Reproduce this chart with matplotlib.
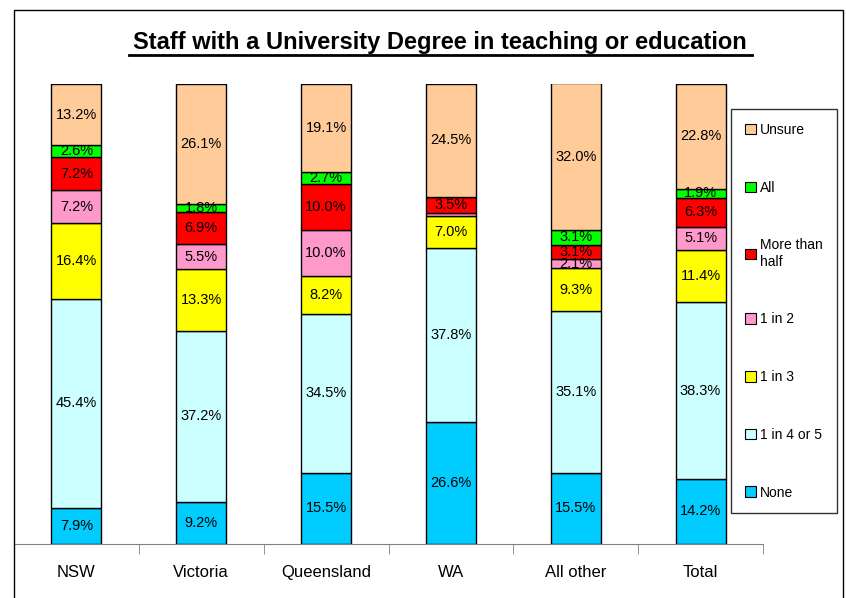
import numpy as np
import matplotlib.pyplot as plt
from matplotlib.patches import Rectangle, Patch

plt.rcParams['font.family'] = ['Liberation Sans', 'DejaVu Sans']

regions = ['NSW', 'Victoria', 'Queensland', 'WA', 'All other', 'Total']
series = ['None', '1 in 4 or 5', '1 in 3', '1 in 2', 'More than\nhalf', 'All', 'Unsure']
colors = ['#00CCFF', '#CCFFFF', '#FFFF00', '#FF99CC', '#FF0000', '#00FF00', '#FFCC99']

none_ = [7.9, 9.2, 15.5, 26.6, 15.5, 14.2]
one_in_4_5 = [45.4, 37.2, 34.5, 37.8, 35.1, 38.3]
one_in_3 = [16.4, 13.3, 8.2, 7.0, 9.3, 11.4]
one_in_2 = [7.2, 5.5, 10.0, 0.5, 2.1, 5.1]
more_than_half = [7.2, 6.9, 10.0, 3.5, 3.1, 6.3]
all_ = [2.6, 1.8, 2.7, 0.1, 3.1, 1.9]
unsure = [13.2, 26.1, 19.1, 24.5, 32.0, 22.8]
values = [none_, one_in_4_5, one_in_3, one_in_2, more_than_half, all_, unsure]

W, H = 847, 598
fig = plt.figure(figsize=(W / 100, H / 100), dpi=100)
ax = fig.add_axes([14 / W, 1 - 544 / H, (763 - 14) / W, (544 - 84) / H])

x = np.arange(len(regions))
bottom = np.zeros(len(regions))
for vals, col in zip(values, colors):
    vals = np.array(vals)
    ax.bar(x, vals, 0.4, bottom=bottom, color=col, edgecolor='black', linewidth=1)
    for xi, b, v in zip(x, bottom, vals):
        if v >= 1:
            ax.text(xi, b + v / 2, f'{v:.1f}%', ha='center', va='center', fontsize=10.5)
    bottom += vals

ax.set_xlim(-0.5, len(regions) - 0.5)
ax.set_ylim(0, 100)
ax.set_yticks([])
for s in ['top', 'right', 'left']:
    ax.spines[s].set_visible(False)
ax.spines['bottom'].set_color('#808080')
ax.set_xticks(x)
ax.set_xticklabels(regions, fontsize=12)
ax.tick_params(axis='x', which='major', length=0, pad=15)
ax.set_xticks(np.arange(0.5, len(regions)), minor=True)
ax.tick_params(axis='x', which='minor', length=7, color='#808080')

fig.text(440 / W, 1 - 43 / H, 'Staff with a University Degree in teaching or education',
         ha='center', va='center', fontsize=17, fontweight='bold')
fig.add_artist(plt.Line2D([129 / W, 752 / W], [1 - 55 / H, 1 - 55 / H], color='black', lw=2))

handles = [Patch(facecolor=c, edgecolor='black', linewidth=0.8) for c in colors[::-1]]
leg = fig.legend(handles, series[::-1], loc='upper left',
                 bbox_to_anchor=(731 / W, 1 - 109 / H), fontsize=10,
                 handlelength=0.8, handleheight=0.8, handletextpad=0.3,
                 labelspacing=3.15, borderpad=1.0, borderaxespad=0,
                 fancybox=False, frameon=True)
leg.get_frame().set_edgecolor('black')
leg.get_frame().set_linewidth(1)

fig.add_artist(Rectangle((14 / W, -0.05), (843 - 14) / W, 1.05 - 10 / H,
                         transform=fig.transFigure, fill=False, edgecolor='black', lw=1))

fig.savefig('out.png', dpi=100)
